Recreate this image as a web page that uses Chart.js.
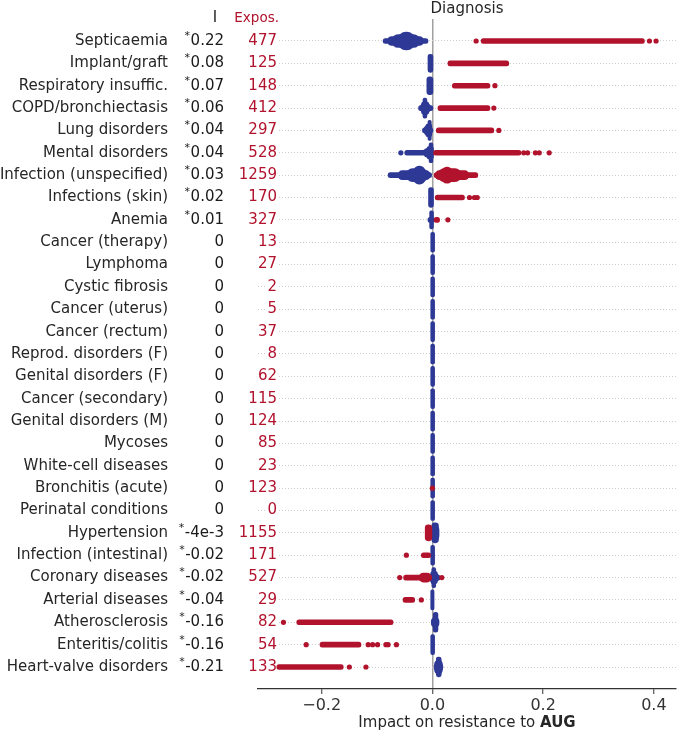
<!DOCTYPE html>
<html>
<head>
<meta charset="utf-8">
<script src="https://cdn.jsdelivr.net/npm/chart.js@4.4.1/dist/chart.umd.min.js"></script>
<style>
  html, body { margin: 0; padding: 0; background: #fff; }
  canvas { display: block; }
</style>
</head>
<body>
<canvas id="shapChart" width="680" height="734"></canvas>
<script>
// Filas (de arriba a abajo)
const diagnoses = [
    'Septicaemia', 'Implant/graft', 'Respiratory insuffic.', 'COPD/bronchiectasis',
    'Lung disorders', 'Mental disorders', 'Infection (unspecified)', 'Infections (skin)',
    'Anemia', 'Cancer (therapy)', 'Lymphoma', 'Cystic fibrosis', 'Cancer (uterus)',
    'Cancer (rectum)', 'Reprod. disorders (F)', 'Genital disorders (F)', 'Cancer (secondary)',
    'Genital disorders (M)', 'Mycoses', 'White-cell diseases', 'Bronchitis (acute)',
    'Perinatal conditions', 'Hypertension', 'Infection (intestinal)', 'Coronary diseases',
    'Arterial diseases', 'Atherosclerosis', 'Enteritis/colitis', 'Heart-valve disorders'
];
const importance = [
    '0.22', '0.08', '0.07', '0.06', '0.04', '0.04', '0.03', '0.02', '0.01',
    '0', '0', '0', '0', '0', '0', '0', '0', '0', '0', '0', '0', '0',
    '-4e-3', '-0.02', '-0.02', '-0.04', '-0.16', '-0.16', '-0.21'
];
const significant = [
    true, true, true, true, true, true, true, true, true,
    false, false, false, false, false, false, false, false, false, false, false, false, false,
    true, true, true, true, true, true, true
];
const exposures = [
    477, 125, 148, 412, 297, 528, 1259, 170, 327, 13, 27, 2, 5, 37, 8, 62,
    115, 124, 85, 23, 123, 0, 1155, 171, 527, 29, 82, 54, 133
];
const xTicks = [-0.2, 0, 0.2, 0.4];

// Densidad del enjambre: [fila, desde, hasta]
const blueStrip = [
    [0, -0.089, -0.008], [3, -0.025, 0.001], [4, -0.018, 0.001], [5, -0.050, 0.001],
    [6, -0.080, 0.000], [8, -0.008, 0.003], [24, -0.009, 0.014]
];
const blueBody = [
    [0, -0.081, -0.016], [3, -0.022, -0.003], [4, -0.015, 0.000], [5, -0.016, 0.002],
    [6, -0.062, -0.004], [24, -0.006, 0.012], [26, -0.002, 0.012], [28, 0.003, 0.019]
];
const blueCore = [
    [0, -0.073, -0.023], [3, -0.020, -0.006], [4, -0.012, -0.001], [5, -0.010, 0.002],
    [6, -0.047, -0.008], [22, -0.002, 0.012], [24, -0.003, 0.009], [28, 0.004, 0.018]
];
const bluePeak = [
    [0, -0.062, -0.032], [1, -0.008, 0.001], [2, -0.010, 0.001], [6, -0.034, -0.013],
    [8, -0.005, 0.002]
];
const blueColumn = [
    [3, -0.017, -0.010], [4, -0.008, -0.002], [5, -0.006, 0.001], [7, -0.007, 0.002],
    [9, -0.003, 0.004], [10, -0.003, 0.004], [11, -0.003, 0.004], [12, -0.003, 0.004],
    [13, -0.003, 0.004], [14, -0.003, 0.004], [15, -0.003, 0.004], [16, -0.003, 0.004],
    [17, -0.003, 0.004], [18, -0.003, 0.004], [19, -0.003, 0.004], [20, -0.003, 0.004],
    [21, -0.003, 0.004], [22, -0.001, 0.011], [23, -0.003, 0.004], [24, -0.001, 0.006],
    [25, -0.003, 0.003], [26, 0.000, 0.010], [27, -0.003, 0.004], [28, 0.007, 0.016]
];
const redStrip = [
    [0, 0.088, 0.383], [1, 0.028, 0.138], [2, 0.036, 0.104], [3, 0.010, 0.104],
    [4, 0.007, 0.111], [5, 0.002, 0.160], [6, 0.003, 0.082], [7, 0.005, 0.058],
    [8, 0.003, 0.013], [23, -0.020, -0.003], [24, -0.052, 0.000], [25, -0.053, -0.032],
    [26, -0.245, -0.071], [27, -0.203, -0.129], [28, -0.281, -0.161]
];
const redBody = [[6, 0.005, 0.066], [24, -0.024, -0.002]];
const redCore = [[6, 0.010, 0.052]];
const redPeak = [[6, 0.017, 0.036], [22, -0.013, -0.001]];

// Puntos sueltos: [fila, valor]
const redDots = [
    [0, 0.079], [0, 0.392], [0, 0.404], [2, 0.113], [3, 0.111], [4, 0.120],
    [5, 0.165], [5, 0.172], [5, 0.186], [5, 0.193], [5, 0.211],
    [7, 0.067], [7, 0.076], [7, 0.081], [8, 0.028], [20, 0.000],
    [23, -0.047], [24, -0.059], [24, 0.017], [25, -0.020], [26, -0.269],
    [27, -0.228], [27, -0.116], [27, -0.108], [27, -0.099], [27, -0.084], [27, -0.080], [27, -0.065],
    [28, -0.150], [28, -0.120]
];
const blueDots = [[5, -0.057]];

const BLUE = '#2e3996';
const RED = '#b1122c';
const TEXT = '#262626';
const FONT = "'DejaVu Sans', sans-serif";

function band(rows, color, thickness, order) {
    return {
        type: 'bar',
        data: rows.map(r => ({ x: [r[1], r[2]], y: r[0] })),
        backgroundColor: color,
        barThickness: thickness,
        borderRadius: 20,
        borderSkipped: false,
        grouped: false,
        order: order
    };
}

function dots(rows, color) {
    return {
        type: 'scatter',
        data: rows.map(r => ({ x: r[1], y: r[0] })),
        backgroundColor: color,
        pointRadius: 2.6,
        pointBorderWidth: 0,
        order: 1
    };
}

// Textos de filas, columnas (I / Expos.) y titulos
const columnText = {
    id: 'columnText',
    beforeDatasetsDraw(chart) {
        const { ctx, scales: { y } } = chart;
        ctx.save();
        ctx.font = '15px ' + FONT;
        ctx.fillStyle = '#fff';
        exposures.forEach((n, i) => {
            const w = ctx.measureText(String(n)).width;
            ctx.fillRect(277 - w - 2, y.getPixelForValue(i) - 3, w + 2, 6);
        });
        ctx.restore();
    },
    afterDraw(chart) {
        const { ctx, chartArea, scales: { y } } = chart;
        const cx = (chartArea.left + chartArea.right) / 2;
        ctx.save();
        ctx.textBaseline = 'middle';

        ctx.font = '15px ' + FONT;
        ctx.fillStyle = TEXT;
        ctx.textAlign = 'center';
        ctx.fillText('Diagnosis', cx, 9);
        ctx.fillText('I', 215, 18);

        ctx.font = '13.5px ' + FONT;
        ctx.fillStyle = RED;
        ctx.textAlign = 'right';
        ctx.fillText('Expos.', 279, 18);

        diagnoses.forEach((d, i) => {
            const py = y.getPixelForValue(i);
            ctx.font = '15px ' + FONT;
            ctx.textAlign = 'right';
            ctx.fillStyle = TEXT;
            ctx.fillText(d, 168, py);
            ctx.fillStyle = '#1a1a1a';
            ctx.fillText(importance[i], 224, py);
            if (significant[i]) {
                const w = ctx.measureText(importance[i]).width;
                ctx.font = '11px ' + FONT;
                ctx.fillText('*', 224 - w - 0.5, py - 5);
            }
            ctx.font = '15px ' + FONT;
            ctx.fillStyle = RED;
            ctx.fillText(String(exposures[i]), 277, py);
        });

        // Titulo del eje x con AUG en negrita
        const part1 = 'Impact on resistance to ';
        ctx.font = '15px ' + FONT;
        const w1 = ctx.measureText(part1).width;
        ctx.font = 'bold 15px ' + FONT;
        const w2 = ctx.measureText('AUG').width;
        const x0 = cx - (w1 + w2) / 2;
        ctx.textAlign = 'left';
        ctx.fillStyle = TEXT;
        ctx.font = '15px ' + FONT;
        ctx.fillText(part1, x0, 723);
        ctx.font = 'bold 15px ' + FONT;
        ctx.fillText('AUG', x0 + w1, 723);
        ctx.restore();
    }
};

new Chart(document.getElementById('shapChart'), {
    type: 'bar',
    data: {
        datasets: [
            band(blueStrip, BLUE, 5, 20),
            band(blueBody, BLUE, 9, 20),
            band(blueCore, BLUE, 13, 20),
            band(bluePeak, BLUE, 18, 20),
            band(blueColumn, BLUE, 20, 20),
            band(redStrip, RED, 5, 10),
            band(redBody, RED, 9, 10),
            band(redCore, RED, 13, 10),
            band(redPeak, RED, 16, 10),
            dots(blueDots, BLUE),
            dots(redDots, RED)
        ]
    },
    options: {
        indexAxis: 'y',
        responsive: false,
        animation: false,
        devicePixelRatio: 1,
        layout: { padding: { top: 19, right: 3, left: 0, bottom: 0 } },
        plugins: {
            legend: { display: false },
            tooltip: { enabled: false },
            title: { display: false }
        },
        scales: {
            x: {
                type: 'linear',
                position: 'bottom',
                min: -0.315,
                max: 0.44,
                offset: false,
                afterBuildTicks: scale => { scale.ticks = xTicks.map(v => ({ value: v })); },
                afterFit: scale => { scale.height = 45; },
                ticks: {
                    color: '#333',
                    font: { family: FONT, size: 16 },
                    padding: 2,
                    callback: v => (v < 0 ? '\u2212' : '') + Math.abs(v).toFixed(1)
                },
                grid: {
                    offset: false,
                    color: ctx => (ctx.tick && ctx.tick.value === 0) ? '#a0a0a0' : 'rgba(0,0,0,0)',
                    lineWidth: 1.5,
                    drawTicks: true,
                    tickLength: 5,
                    tickColor: '#333',
                    tickWidth: 1
                },
                border: { display: true, color: '#333', width: 1.2 }
            },
            y: {
                type: 'linear',
                reverse: true,
                min: -0.984,
                max: 28.984,
                offset: false,
                afterBuildTicks: scale => { scale.ticks = diagnoses.map((d, i) => ({ value: i })); },
                afterFit: scale => { scale.width = 258; },
                ticks: { display: false },
                grid: {
                    offset: false,
                    color: '#cccccc',
                    lineWidth: 1,
                    drawTicks: false
                },
                border: { display: false, dash: [1, 2] }
            }
        }
    },
    plugins: [columnText]
});
</script>
</body>
</html>
